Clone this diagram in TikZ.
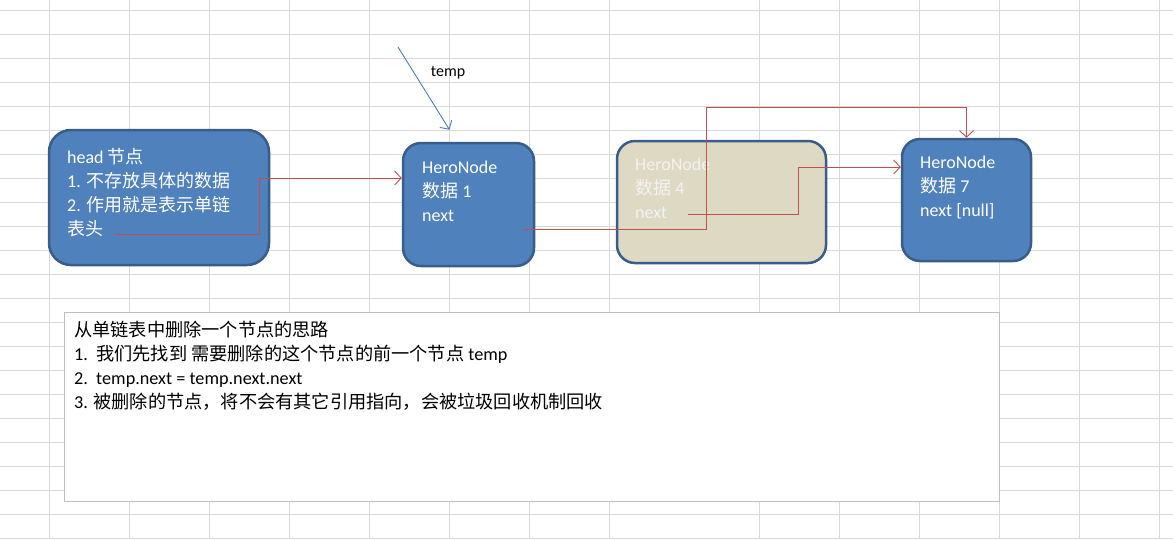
\documentclass[tikz,border=0pt]{standalone}
\usepackage{fontspec}
\setmainfont{Carlito}
\newfontfamily\cjk{Noto Sans CJK SC}
\usetikzlibrary{arrows.meta, positioning, calc}
\definecolor{nodeblue}{HTML}{4F81BD}
\definecolor{nodeedge}{HTML}{385D8A}
\definecolor{nodetan}{HTML}{DDD9C3}
\definecolor{linkred}{HTML}{C0504D}
\definecolor{tempblue}{HTML}{4A7EBB}
\definecolor{gridgray}{HTML}{D9D9D9}
\definecolor{notegray}{HTML}{BFBFBF}
\definecolor{fadedtext}{HTML}{F2F2F2}
\newcommand{\zh}[1]{{\cjk #1}}
\tikzset{
    gridline/.style = {gridgray, line width=1pt},
    listnode/.style = {rectangle, rounded corners=18pt, draw=nodeedge, line width=2.5pt, fill=nodeblue, inner sep=0pt},
    deadnode/.style = {listnode, fill=nodetan},
    nodetext/.style = {anchor=north west, inner sep=0pt, align=left, text=white, font=\fontsize{18}{24}\selectfont},
    notebox/.style = {rectangle, draw=notegray, line width=1pt, fill=white, inner sep=0pt},
    link/.style = {linkred, line width=0.9pt, -{Straight Barb[length=6.5pt,width=14pt]}},
    pointer/.style = {tempblue, line width=0.9pt, -{Straight Barb[length=6.5pt,width=14pt]}}
}

\begin{document}
\begin{tikzpicture}[x=1pt, y=-1pt]
\useasboundingbox (0,0) rectangle (1173,539);
\fill[white] (0,0) rectangle (1173,539);

% ---- spreadsheet grid ----
\foreach \x in {49,129,209,289,369,449,529,609,759,839,919,999,1079,1159}
  \draw[gridline] (\x,0) -- (\x,539);
\foreach \y in {10,34,...,538}
  \draw[gridline] (0,\y) -- (1173,\y);

% ---- list nodes ----
\node[listnode, minimum width=220pt, minimum height=135pt, rounded corners=22pt] (head) at (159,197.5) {};
\node[listnode, minimum width=131pt, minimum height=123pt] (hero1) at (468.5,204.5) {};
\node[deadnode, minimum width=209pt, minimum height=122pt] (hero4) at (721.5,202) {};
\node[listnode, minimum width=129pt, minimum height=122pt] (hero7) at (966.5,200) {};

\node[nodetext] (head-txt) at (67,148) {head \zh{节点}\\1. \zh{不存放具体的数据}\\2. \zh{作用就是表示单链}\\\zh{表头}};
\node[nodetext] (hero1-txt) at (422,161) {HeroNode\\\zh{数据} 1\\next};
\node[nodetext, text=fadedtext] (hero4-txt) at (635,158) {HeroNode\\\zh{数据} 4\\next};
\node[nodetext] (hero7-txt) at (920,156) {HeroNode\\\zh{数据} 7\\next [null]};

% ---- next pointers ----
\coordinate (head-next) at (115,234);
\coordinate (hero1-next) at (523,229);
\coordinate (hero4-next) at (688,214);
\draw[link] (head-next) -- ++(144,0) |- ($(hero1.west)+(0,-26.5)$);
\draw[link] (hero1-next) -- ++(183,0) -- ++(0,-122) -| (hero7.north);
\draw[link] (hero4-next) -- ++(110,0) |- ($(hero7.west)+(0,-33)$);

% ---- temp ----
\coordinate (temp-tail) at (398,47);
\node[font=\fontsize{16}{19}\selectfont, inner sep=0pt] (temp) at (448,73) {temp};
\draw[pointer] (temp-tail) -- ($(hero1.north)+(-19,-12)$);

% ---- note ----
\node[notebox, minimum width=935pt, minimum height=189pt] (note) at (531.5,406.5) {};
\node[nodetext, text=black, font=\fontsize{18.2}{24}\selectfont] (note-txt) at (74,320.5) {%
  \zh{从单链表中删除一个节点的思路}\\
  1.\ \ \zh{我们先找到 需要删除的这个节点的前一个节点} temp\\
  2.\ \ temp.next = temp.next.next\\
  3. \zh{被删除的节点，将不会有其它引用指向，会被垃圾回收机制回收}};

\end{tikzpicture}
\end{document}
